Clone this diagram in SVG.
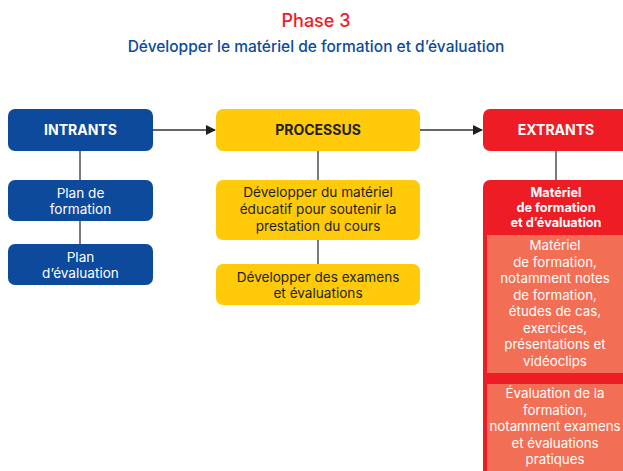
<svg xmlns="http://www.w3.org/2000/svg" width="623" height="471" viewBox="0 0 623 471">
<style>
text{font-family:Inter,"Noto Sans","Liberation Sans",sans-serif;text-anchor:middle}
.t{font-size:13.6px}
.p{font-size:13.3px}
.b{font-weight:700;font-size:14px}
.h{font-weight:700;font-size:12.7px}
.w{fill:#fff}
.k{fill:#231f20}
.blue{fill:#0d4a9b}
.yel{fill:#ffca0a}
.red{fill:#ee1c25}
.sal{fill:#f26f55}
.ln{stroke:#333;stroke-width:1.3;fill:none}
</style>
<defs>
<marker id="ah" markerWidth="10" markerHeight="10" refX="9" refY="5" orient="auto" markerUnits="userSpaceOnUse">
<path d="M0,0 L10,5 L0,10 Z" fill="#231f20"/>
</marker>
</defs>
<rect width="623" height="471" fill="#fff"/>
<text x="316" y="27" font-size="18" font-weight="500" fill="#ee1c25">Phase 3</text>
<text x="316" y="52" font-size="15.5" font-weight="500" fill="#0d4a9b">Développer le matériel de formation et d’évaluation</text>

<g id="connectors">
<line class="ln" x1="153" y1="130" x2="215" y2="130" marker-end="url(#ah)"/>
<line class="ln" x1="420" y1="130" x2="482" y2="130" marker-end="url(#ah)"/>
<line class="ln" x1="80" y1="151" x2="80" y2="180"/>
<line class="ln" x1="80" y1="221" x2="80" y2="244"/>
<line class="ln" x1="318" y1="151" x2="318" y2="180"/>
<line class="ln" x1="318" y1="240" x2="318" y2="264"/>
<line class="ln" x1="556" y1="151" x2="556" y2="180"/>
</g>

<g id="intrants">
<rect class="blue" x="8" y="109" width="145" height="42" rx="7"/>
<text class="b w" x="80.5" y="135">INTRANTS</text>
</g>
<g id="plan-formation">
<rect class="blue" x="8" y="180" width="145" height="41" rx="7"/>
<text class="t w" x="80.5" y="198">Plan de</text>
<text class="t w" x="80.5" y="214">formation</text>
</g>
<g id="plan-evaluation">
<rect class="blue" x="8" y="244" width="145" height="41" rx="7"/>
<text class="t w" x="80.5" y="262">Plan</text>
<text class="t w" x="80.5" y="278">d’évaluation</text>
</g>

<g id="processus">
<rect class="yel" x="216" y="109" width="204" height="42" rx="7"/>
<text class="b k" x="318" y="135">PROCESSUS</text>
</g>
<g id="developper-materiel">
<rect class="yel" x="216" y="180" width="204" height="60" rx="7"/>
<text class="t k" x="318" y="197">Développer du matériel</text>
<text class="t k" x="318" y="214">éducatif pour soutenir la</text>
<text class="t k" x="318" y="231">prestation du cours</text>
</g>
<g id="developper-examens">
<rect class="yel" x="216" y="264" width="204" height="41" rx="7"/>
<text class="t k" x="318" y="282">Développer des examens</text>
<text class="t k" x="318" y="298">et évaluations</text>
</g>

<g id="extrants">
<rect class="red" x="483" y="109" width="150" height="42" rx="7"/>
<text class="b w" x="556" y="135">EXTRANTS</text>
</g>
<g id="materiel">
<rect class="red" x="483" y="180" width="150" height="300" rx="7"/>
<text class="h w" x="556" y="196.5">Matériel</text>
<text class="h w" x="556" y="211.8">de formation</text>
<text class="h w" x="556" y="227.1">et d’évaluation</text>
<rect class="sal" x="487" y="235" width="140" height="138"/>
<text class="p w" x="555" y="250">Matériel</text>
<text class="p w" x="555" y="266.5">de formation,</text>
<text class="p w" x="555" y="283">notamment notes</text>
<text class="p w" x="555" y="299.5">de formation,</text>
<text class="p w" x="555" y="316">études de cas,</text>
<text class="p w" x="555" y="332.5">exercices,</text>
<text class="p w" x="555" y="349">présentations et</text>
<text class="p w" x="555" y="365.5">vidéoclips</text>
<rect class="sal" x="487" y="384" width="140" height="100"/>
<text class="p w" x="555" y="398">Évaluation de la</text>
<text class="p w" x="555" y="414.5">formation,</text>
<text class="p w" x="555" y="431">notamment examens</text>
<text class="p w" x="555" y="447.5">et évaluations</text>
<text class="p w" x="555" y="464">pratiques</text>
</g>
</svg>
